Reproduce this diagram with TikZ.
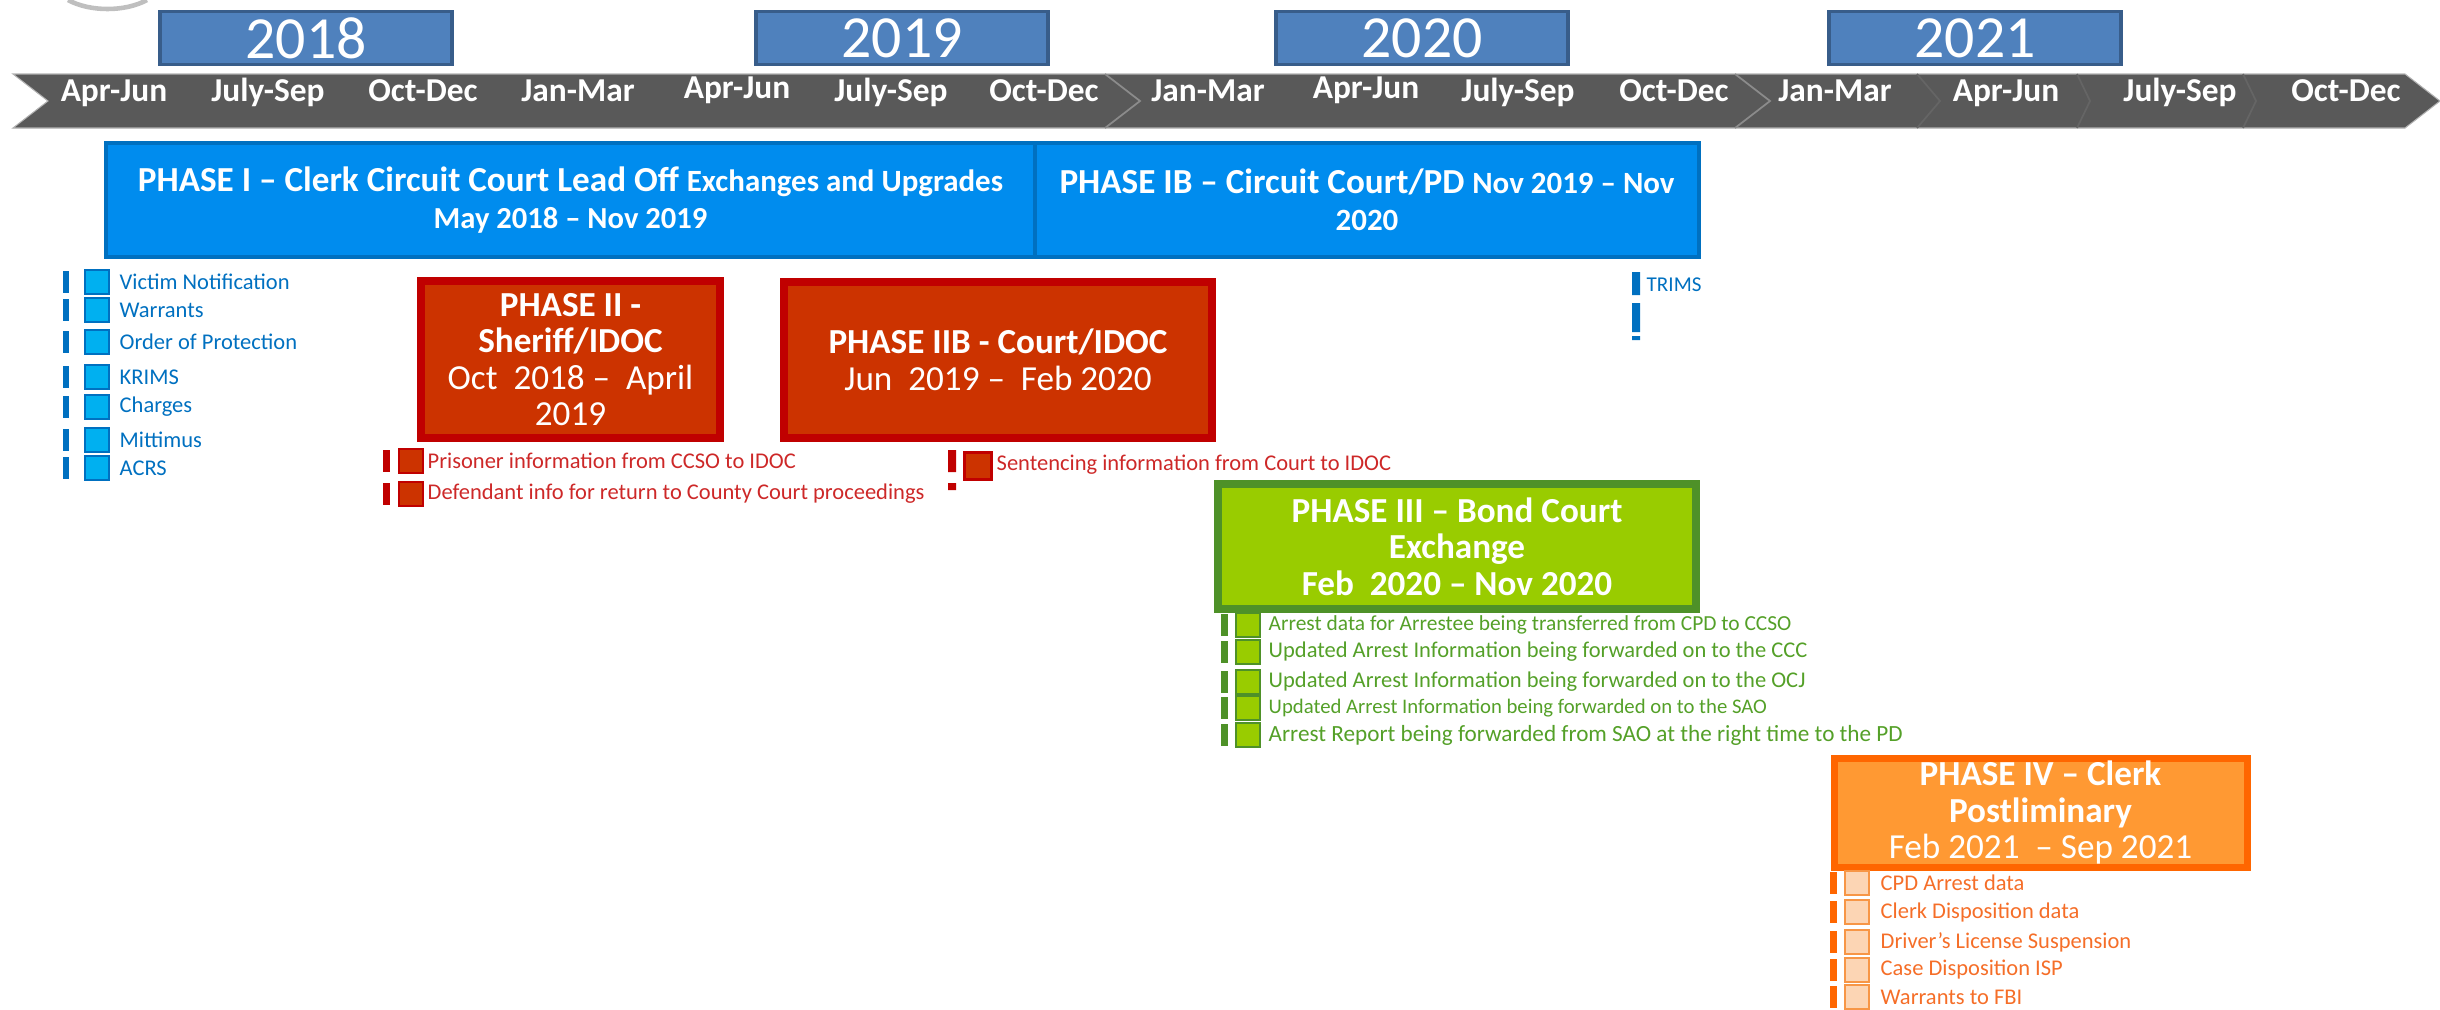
\documentclass[tikz,border=0pt]{standalone}
\usepackage{fontspec}
\setmainfont{Carlito}
\definecolor{band}{HTML}{595959}
\definecolor{yearfill}{HTML}{4F81BD}
\definecolor{yearline}{HTML}{385D8A}
\definecolor{ph1fill}{RGB}{0,140,238}
\definecolor{ph1line}{HTML}{0070C0}
\definecolor{bluesq}{HTML}{00B0F0}
\definecolor{ph2fill}{HTML}{CC3300}
\definecolor{ph2line}{HTML}{C00000}
\definecolor{redtxt}{RGB}{205,40,40}
\definecolor{ph3fill}{HTML}{99CC00}
\definecolor{ph3line}{RGB}{78,145,40}
\definecolor{greentxt}{RGB}{84,160,40}
\definecolor{ph4fill}{HTML}{FF9933}
\definecolor{ph4line}{HTML}{FF6600}
\definecolor{orangetxt}{RGB}{245,110,40}
\definecolor{peach}{HTML}{FCD5B4}
\definecolor{peachline}{HTML}{F79646}
\begin{document}
\begin{tikzpicture}[x=0.1mm,y=-0.1mm,
  yearbox/.style={draw=yearline,line width=0.9pt,fill=yearfill,text=white,minimum width=29.2mm,minimum height=5.3mm,inner sep=0pt,font=\fontsize{17}{17}\selectfont},
  quarter/.style={anchor=base,inner sep=0pt,text=white,font=\bfseries\fontsize{9.5}{9.5}\selectfont},
  phasebox/.style={align=center,inner sep=0pt,text=white,font=\bfseries\fontsize{10}{10.4}\selectfont},
  itembox/.style={draw,line width=0.6pt,minimum size=2.4mm,inner sep=0pt},
  itemtext/.style={anchor=west,inner sep=0pt,font=\fontsize{6.4}{6.4}\selectfont},
  sepline/.style={draw=band!70!white,line width=0.5pt}]
\useasboundingbox (0,0) rectangle (2440,1009);
\draw[gray!50,line width=1.3pt] (68,0) .. controls (90,12) and (125,12) .. (147,0);
\fill[band,draw=gray!60,line width=0.3pt] (13,74) -- (2405,74) -- (2440,101) -- (2405,128) -- (13,128) -- (48,101) -- cycle;
\draw[sepline] (1105,74) -- (1140,101) -- (1105,128);
\draw[sepline] (1735,74) -- (1770,101) -- (1735,128);
\draw[sepline,draw=band!93!white] (1917,74) -- (1940,101) -- (1917,128);
\draw[sepline,draw=band!93!white] (2077,74) -- (2090,101) -- (2077,128);
\draw[sepline,draw=band!93!white] (2243,74) -- (2256,101) -- (2243,128);
\node[yearbox] (y2018) at (306,38) {2018};
\node[yearbox] (y2019) at (902,38) {2019};
\node[yearbox] (y2020) at (1422,38) {2020};
\node[yearbox] (y2021) at (1975,38) {2021};
\foreach \q/\x/\y [count=\i] in {Apr-Jun/114/101,July-Sep/268/101,Oct-Dec/423/101,Jan-Mar/578/101,Apr-Jun/737/98,July-Sep/891/101,Oct-Dec/1044/101,Jan-Mar/1208/101,Apr-Jun/1366/98,July-Sep/1518/101,Oct-Dec/1674/101,Jan-Mar/1835/101,Apr-Jun/2006/101,July-Sep/2180/101,Oct-Dec/2346/101}
  \node[quarter] (q\i) at (\x,\y) {\q};
\node[phasebox,fill=ph1fill,draw=ph1line,line width=1.1pt,minimum width=92.9mm,minimum height=11.4mm] (ph1) at (570.5,200) {PHASE I – Clerk Circuit Court Lead Off {\fontsize{8.8}{10.4}\selectfont Exchanges and Upgrades}\\{\fontsize{8.7}{10.4}\selectfont May 2018 – Nov 2019}};
\node[phasebox,fill=ph1fill,draw=ph1line,line width=1.1pt,minimum width=66.4mm,minimum height=11.4mm] (ph1b) at (1367,200) {PHASE IB – Circuit Court/PD {\fontsize{8.8}{10.4}\selectfont Nov 2019 – Nov}\\{\fontsize{8.8}{10.4}\selectfont 2020}};
\node[phasebox,fill=ph2fill,draw=ph2line,line width=2.3pt,minimum width=29.9mm,minimum height=15.7mm] (ph2) at (570.5,359.5) {PHASE II -\\Sheriff/IDOC\\{\mdseries Oct~~2018 –~~April}\\{\mdseries 2019}};
\node[phasebox,fill=ph2fill,draw=ph2line,line width=2.3pt,minimum width=42.8mm,minimum height=15.6mm] (ph2b) at (998,360) {PHASE IIB - Court/IDOC\\{\mdseries Jun~~2019 –~~Feb 2020}};
\node[phasebox,fill=ph3fill,draw=ph3line,line width=2.3pt,minimum width=47.8mm,minimum height=12.5mm] (ph3) at (1457,546.5) {PHASE III – Bond Court\\Exchange\\Feb~~2020 – Nov 2020};
\node[phasebox,fill=ph4fill,draw=ph4line,line width=2pt,minimum width=41.3mm,minimum height=10.9mm] (ph4) at (2040.5,812.5) {PHASE IV – Clerk\\Postliminary\\{\mdseries Feb 2021~~– Sep 2021}};
\foreach \y/\t [count=\i] in {282/Victim Notification,310/Warrants,342/Order of Protection,377/KRIMS,407/Charges,440/Mittimus,468/ACRS} {
  \fill[ph1line] (63,{\y-11}) rectangle (69,{\y+11});
  \node[itembox,draw=ph1line,fill=bluesq] (bsq\i) at (97,\y) {};
  \node[itemtext,text=ph1line] (btx\i) at (119,\y) {\t};
}
\fill[ph1line] (1632,272) rectangle (1640,295) (1632,303) rectangle (1640,332) (1632,336) rectangle (1640,340);
\node[itemtext,text=ph1line,font=\fontsize{6}{6}\selectfont] (trims) at (1646,285) {TRIMS};
\foreach \y/\t [count=\i] in {461/Prisoner information from CCSO to IDOC,494/Defendant info for return to County Court proceedings} {
  \fill[ph2line] (383,{\y-11}) rectangle (390,{\y+11});
  \node[itembox,draw=ph2line,fill=ph2fill] (rsq\i) at (411,\y) {};
  \node[itemtext,text=redtxt] (rtx\i) at (427,\y) {\t};
}
\fill[ph2line] (948,450) rectangle (956,472) (948,483) rectangle (956,490);
\node[itembox,draw=ph2line,fill=ph2fill,minimum size=2.7mm] (sent) at (978,466) {};
\node[itemtext,text=redtxt] (senttxt) at (996,465) {Sentencing information from Court to IDOC};
\foreach \y/\s/\t [count=\i] in {625/6.1/Arrest data for Arrestee being transferred from CPD to CCSO,652/6.4/Updated Arrest Information being forwarded on to the CCC,682/6.4/Updated Arrest Information being forwarded on to the OCJ,708/5.9/Updated Arrest Information being forwarded on to the SAO,735/6.6/Arrest Report being forwarded from SAO at the right time to the PD} {
  \fill[ph3line] (1221,{\y-11}) rectangle (1228,{\y+11});
  \node[itembox,draw=ph3line,fill=ph3fill] (gsq\i) at (1248,\y) {};
  \node[itemtext,text=greentxt,font=\fontsize{\s}{\s}\selectfont] (gtx\i) at (1268,\y) {\t};
}
\foreach \y/\t [count=\i] in {883/CPD Arrest data,912/Clerk Disposition data,942/Driver’s License Suspension,970/Case Disposition ISP,997/Warrants to FBI} {
  \fill[ph4line] (1830,{\y-11}) rectangle (1837,{\y+11});
  \node[itembox,draw=peachline,fill=peach] (osq\i) at (1857,\y) {};
  \node[itemtext,text=orangetxt] (otx\i) at (1880,\y) {\t};
}
\end{tikzpicture}
\end{document}
